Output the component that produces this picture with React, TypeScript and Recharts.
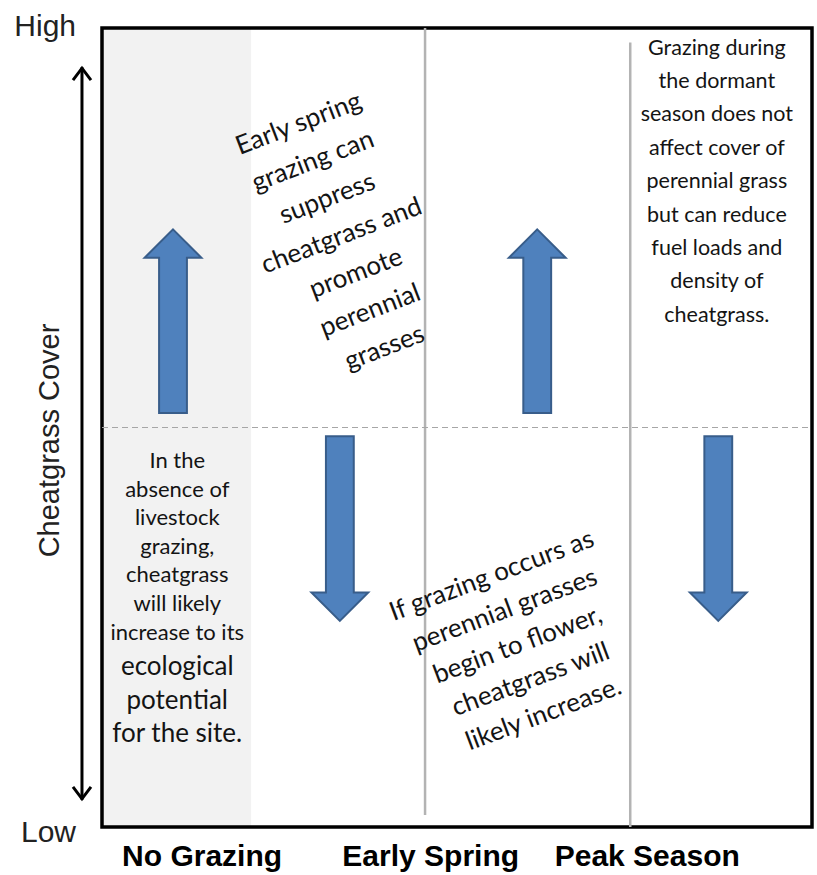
import React from 'react';
import { ComposedChart, XAxis, YAxis, ReferenceArea, ReferenceLine, Scatter } from 'recharts';

// x runs 0..100 across the box, y is cheatgrass cover 0 (low) .. 100 (high)
const categories = ['No Grazing', 'Early Spring', 'Peak Season'];
const categoryPos = [14.1, 46.3, 76.8];

const yTicks = [0, 100];
const yTickLabels = ['Low', 'High'];

const arrowX = [10.0, 33.5, 61.3, 86.8];
const arrowFrom = [51.8, 48.9, 51.8, 48.9];
const arrowTo = [74.8, 25.8, 74.8, 25.8];

const noGrazingEnd = 21;
const dividerX = [45.5, 74.4];
const dividerFrom = [1.5, 0];
const dividerTo = [100, 98.2];
const midline = 50;

const noteText = [
  ['Early spring', 'grazing can', 'suppress', 'cheatgrass and', 'promote', 'perennial', 'grasses'],
  ['If grazing occurs as', 'perennial grasses', 'begin to flower,', 'cheatgrass will', 'likely increase.'],
  ['Grazing during', 'the dormant', 'season does not', 'affect cover of', 'perennial grass', 'but can reduce', 'fuel loads and', 'density of', 'cheatgrass.'],
  ['In the', 'absence of', 'livestock', 'grazing,', 'cheatgrass', 'will likely', 'increase to its', 'ecological', 'potential', 'for the site.'],
];
const noteX = [33.7, 58.5, 86.6, 10.6];
const noteY = [74.1, 22.9, 80.9, 28.8];

const notes = noteText.map((_, i) => ({ id: i, x: noteX[i], y: noteY[i] }));

const noteStyle = [
  { fs: 26, lh: 40, angle: -21 },
  { fs: 26, lh: 37, angle: -20.5 },
  { fs: 21.5, lh: 33.4, angle: 0 },
  { fs: 22, lh: 28.6, angle: 0, bigFrom: 7, bigFs: 26, bigLh: 33.8 },
];

const SANS = '"Liberation Sans", Arial, sans-serif';
const NOTE_FONT = 'Lato, "Open Sans", sans-serif';

const BlockArrow = (props: any) => {
  const { x, y, width, height, up } = props;
  const cx = x + width / 2;
  const half = width / 2;
  const head = width / 2;
  const shaft = width * 0.245;
  let pts: number[][];
  if (up) {
    const base = y + head;
    const end = y + height;
    pts = [[cx, y], [cx + half, base], [cx + shaft, base], [cx + shaft, end], [cx - shaft, end], [cx - shaft, base], [cx - half, base]];
  } else {
    const tip = y + height;
    const base = tip - head;
    pts = [[cx, tip], [cx + half, base], [cx + shaft, base], [cx + shaft, y], [cx - shaft, y], [cx - shaft, base], [cx - half, base]];
  }
  return (
    <polygon
      points={pts.map((p) => p.join(',')).join(' ')}
      fill="#4f81bd"
      stroke="#385d8a"
      strokeWidth={2}
    />
  );
};

const NoteShape = (props: any) => {
  const { cx, cy, payload } = props;
  const st: any = noteStyle[payload.id];
  const lines = noteText[payload.id];
  const big = (i: number) => st.bigFrom !== undefined && i >= st.bigFrom;
  const fs = (i: number) => (big(i) ? st.bigFs : st.fs);
  const lh = (i: number) => (big(i) ? st.bigLh : st.lh);
  let acc = 0;
  const base = lines.map((_, i) => {
    if (i > 0) acc += lh(i);
    return acc;
  });
  const shift = -acc / 2;
  return (
    <g transform={st.angle ? `rotate(${st.angle} ${cx} ${cy})` : undefined}>
      {lines.map((l, i) => (
        <text
          key={i}
          x={cx}
          y={cy + shift + base[i] + fs(i) * 0.35}
          textAnchor="middle"
          fontSize={fs(i)}
          fontFamily={NOTE_FONT}
          fill="#141414"
        >
          {l}
        </text>
      ))}
    </g>
  );
};

const AxisArrow = (props: any) => {
  const { x1, y1, y2 } = props;
  const top = Math.min(y1, y2);
  const bot = Math.max(y1, y2);
  return (
    <g stroke="#000" strokeWidth={3} fill="none">
      <line x1={x1} y1={top} x2={x1} y2={bot} />
      <polyline points={`${x1 - 9},${top + 13} ${x1},${top + 1} ${x1 + 9},${top + 13}`} />
      <polyline points={`${x1 - 9},${bot - 13} ${x1},${bot - 1} ${x1 + 9},${bot - 13}`} />
    </g>
  );
};

const CategoryTick = (props: any) => {
  const { x, y, payload } = props;
  const i = categoryPos.indexOf(payload.value);
  return (
    <text x={x} y={y + 39} textAnchor="middle" fontSize={30} fontWeight="bold" fontFamily={SANS} fill="#000">
      {categories[i]}
    </text>
  );
};

const CoverTick = (props: any) => {
  const { x, y, payload } = props;
  const i = yTicks.indexOf(payload.value);
  return (
    <text x={x - 26} y={y + (i === 1 ? 8 : 15)} textAnchor="end" fontSize={30} fontFamily={SANS} fill="#222">
      {yTickLabels[i]}
    </text>
  );
};

const AxisTitle = (props: any) => {
  const { x, y, width, height } = props.viewBox;
  const cx = x + width / 2 - 2;
  const cy = y + height / 2 + 13;
  return (
    <text
      x={cx}
      y={cy}
      transform={`rotate(-90 ${cx} ${cy})`}
      textAnchor="middle"
      dominantBaseline="central"
      fontSize={29}
      fontFamily={SANS}
      fill="#222"
    >
      Cheatgrass Cover
    </text>
  );
};

export default function App() {
  return (
    <div style={{ position: 'fixed', left: 0, top: 0, background: '#fff' }}>
      <ComposedChart
        width={817}
        height={875}
        data={notes}
        margin={{ top: 28, right: 5, bottom: 8, left: 0 }}
      >
        <XAxis
          type="number"
          dataKey="x"
          domain={[0, 100]}
          ticks={categoryPos}
          interval={0}
          axisLine={false}
          tickLine={false}
          tickSize={0}
          tickMargin={0}
          height={40}
          tick={<CategoryTick />}
        />
        <YAxis
          type="number"
          dataKey="y"
          domain={[0, 100]}
          ticks={yTicks}
          interval={0}
          axisLine={false}
          tickLine={false}
          tickSize={0}
          tickMargin={0}
          width={102}
          tick={<CoverTick />}
          label={<AxisTitle />}
        />

        <ReferenceArea x1={0} x2={noGrazingEnd} y1={0} y2={100} fill="#f2f2f2" fillOpacity={1} stroke="none" />

        {dividerX.map((x, i) => (
          <ReferenceLine
            key={`d${i}`}
            segment={[{ x, y: dividerFrom[i] }, { x, y: dividerTo[i] }]}
            stroke="#b3b3b3"
            strokeWidth={2.5}
          />
        ))}
        <ReferenceLine y={midline} stroke="#a6a6a6" strokeWidth={1.2} strokeDasharray="6 4" />

        <ReferenceArea x1={0} x2={100} y1={0} y2={100} fill="none" stroke="#000" strokeWidth={3.5} />

        {arrowX.map((x, i) => (
          <ReferenceArea
            key={`a${i}`}
            x1={x - 4}
            x2={x + 4}
            y1={Math.min(arrowFrom[i], arrowTo[i])}
            y2={Math.max(arrowFrom[i], arrowTo[i])}
            shape={(p: any) => <BlockArrow {...p} up={arrowTo[i] > arrowFrom[i]} />}
          />
        ))}

        <ReferenceLine
          segment={[{ x: -2.82, y: 3.4 }, { x: -2.82, y: 95.1 }]}
          ifOverflow="visible"
          shape={(p: any) => <AxisArrow {...p} />}
        />

        <Scatter data={notes} isAnimationActive={false} shape={(p: any) => <NoteShape {...p} />} />
      </ComposedChart>
    </div>
  );
}
